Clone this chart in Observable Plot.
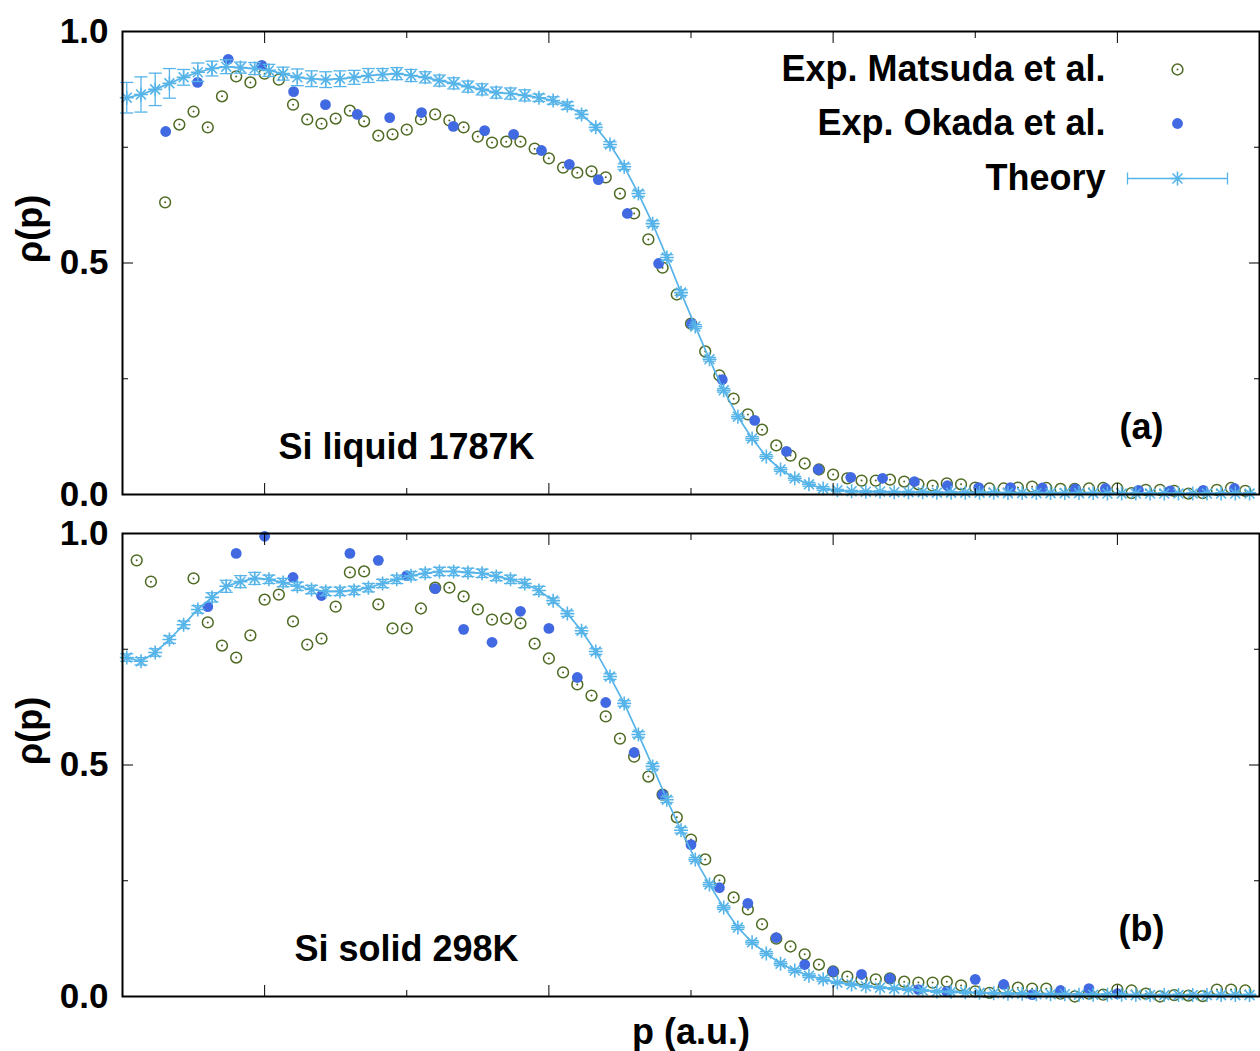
<!DOCTYPE html>
<html>
<head>
<meta charset="utf-8">
<script src="https://cdn.jsdelivr.net/npm/d3@7"></script>
<script src="https://cdn.jsdelivr.net/npm/@observablehq/plot@0.6"></script>
<style>
  body { margin: 0; background: #fff; }
  #chart { width: 1260px; }
  #chart svg { display: block; }
</style>
</head>
<body>
<div id="chart"></div>
<script>
// ---------------------------------------------------------------
// Momentum density rho(p) of silicon: liquid (a) and solid (b)
// ---------------------------------------------------------------

// Theory curves are sampled on a uniform momentum grid (a.u.)
const theoryStart = 0.0075;
const theoryStep = 0.025;

// Matsuda et al. data sit on a 0.025 a.u. grid, index j -> p = j * step
const matsudaStep = 0.025;

// (a) Si liquid 1787K
const theoryLiquid = [
  0.857, 0.864, 0.875, 0.888, 0.901, 0.912, 0.920, 0.924, 0.922, 0.920,
  0.916, 0.909, 0.901, 0.898, 0.896, 0.898, 0.901, 0.905, 0.907, 0.909,
  0.905, 0.901, 0.894, 0.888, 0.881, 0.875, 0.868, 0.866, 0.862, 0.857,
  0.851, 0.840, 0.821, 0.793, 0.756, 0.708, 0.650, 0.585, 0.512, 0.436,
  0.363, 0.292, 0.225, 0.168, 0.121, 0.082, 0.054, 0.035, 0.022, 0.013,
  0.009, 0.007, 0.006, 0.006, 0.005, 0.005, 0.005, 0.004, 0.004, 0.004,
  0.004, 0.004, 0.003, 0.003, 0.003, 0.003, 0.003, 0.003, 0.003, 0.002,
  0.002, 0.002, 0.002, 0.002, 0.002, 0.002, 0.002, 0.002, 0.002, 0.002
];
const theoryLiquidErr = [
  0.033, 0.038, 0.035, 0.032, 0.017, 0.020, 0.016, 0.015, 0.012, 0.013,
  0.013, 0.014, 0.018, 0.017, 0.017, 0.017, 0.015, 0.015, 0.013, 0.013,
  0.013, 0.012, 0.012, 0.012, 0.012, 0.012, 0.012, 0.012, 0.012, 0.008,
  0.008, 0.008, 0.008, 0.006, 0.006, 0.006, 0.006, 0.006, 0.006, 0.006,
  0.004, 0.004, 0.004, 0.004, 0.004, 0.004, 0.004, 0.004, 0.004, 0.004,
  0.002, 0.002, 0.002, 0.002, 0.002, 0.002, 0.002, 0.002, 0.002, 0.002,
  0.002, 0.002, 0.002, 0.002, 0.002, 0.002, 0.002, 0.002, 0.002, 0.002,
  0.002, 0.002, 0.002, 0.002, 0.002, 0.002, 0.002, 0.002, 0.002, 0.002
];
const matsudaLiquidFirst = 3;
const matsudaLiquid = [
  0.631, 0.799, 0.827, 0.793, 0.860, 0.903, 0.890, 0.909, 0.896, 0.842,
  0.810, 0.801, 0.812, 0.829, 0.806, 0.775, 0.778, 0.788, 0.810, 0.821,
  0.808, 0.793, 0.773, 0.760, 0.762, 0.762, 0.747, 0.726, 0.706, 0.695,
  0.698, 0.685, 0.650, 0.607, 0.551, 0.490, 0.432, 0.369, 0.309, 0.257,
  0.207, 0.173, 0.140, 0.106, 0.084, 0.067, 0.054, 0.043, 0.035, 0.030,
  0.030, 0.032, 0.028, 0.022, 0.019, 0.024, 0.022, 0.015, 0.013, 0.013,
  0.015, 0.017, 0.014, 0.012, 0.012, 0.013, 0.014, 0.013, 0.003, 0.010,
  0.010, 0.008, 0.002, 0.003, 0.010, 0.014, 0.008
];
const okadaLiquidP = [
  0.076, 0.132, 0.186, 0.245, 0.301, 0.357, 0.413, 0.470, 0.526, 0.582,
  0.637, 0.688, 0.737, 0.786, 0.837, 0.888, 0.943, 1.001, 1.055, 1.112,
  1.168, 1.224, 1.281, 1.337, 1.393, 1.451, 1.506, 1.562, 1.618, 1.676,
  1.729, 1.787, 1.843, 1.901, 1.956
];
const okadaLiquid = [
  0.784, 0.890, 0.940, 0.927, 0.870, 0.842, 0.821, 0.814, 0.825, 0.795,
  0.786, 0.778, 0.743, 0.713, 0.680, 0.607, 0.499, 0.369, 0.248, 0.160,
  0.093, 0.054, 0.037, 0.035, 0.028, 0.019, 0.015, 0.015, 0.014, 0.012,
  0.013, 0.009, 0.008, 0.009, 0.013
];

// (b) Si solid 298K
const theorySolid = [
  0.732, 0.724, 0.743, 0.771, 0.803, 0.836, 0.862, 0.886, 0.896, 0.903,
  0.901, 0.894, 0.886, 0.879, 0.875, 0.875, 0.877, 0.883, 0.892, 0.901,
  0.909, 0.914, 0.918, 0.918, 0.916, 0.914, 0.907, 0.901, 0.892, 0.877,
  0.855, 0.827, 0.790, 0.745, 0.691, 0.633, 0.566, 0.497, 0.425, 0.359,
  0.296, 0.242, 0.192, 0.149, 0.117, 0.093, 0.071, 0.056, 0.045, 0.037,
  0.030, 0.026, 0.022, 0.019, 0.017, 0.015, 0.013, 0.011, 0.010, 0.009,
  0.008, 0.007, 0.006, 0.006, 0.005, 0.005, 0.005, 0.004, 0.004, 0.004,
  0.004, 0.003, 0.003, 0.003, 0.003, 0.003, 0.003, 0.003, 0.003, 0.003
];
const theorySolidErr = [
  0.008, 0.008, 0.008, 0.008, 0.008, 0.008, 0.010, 0.013, 0.013, 0.013,
  0.009, 0.009, 0.009, 0.009, 0.009, 0.009, 0.009, 0.009, 0.009, 0.009,
  0.009, 0.009, 0.009, 0.009, 0.009, 0.009, 0.009, 0.009, 0.009, 0.009,
  0.006, 0.006, 0.006, 0.006, 0.006, 0.006, 0.006, 0.006, 0.006, 0.006,
  0.004, 0.004, 0.004, 0.004, 0.004, 0.004, 0.004, 0.004, 0.004, 0.004,
  0.002, 0.002, 0.002, 0.002, 0.002, 0.002, 0.002, 0.002, 0.002, 0.002,
  0.002, 0.002, 0.002, 0.002, 0.002, 0.002, 0.002, 0.002, 0.002, 0.002,
  0.002, 0.002, 0.002, 0.002, 0.002, 0.002, 0.002, 0.002, 0.002, 0.002
];
// values above 1.0 lie outside the frame and are left out (null)
const matsudaSolidFirst = 1;
const matsudaSolid = [
  0.942, 0.896, null, null, 0.903, 0.808, 0.758, 0.732, 0.780, 0.857,
  0.868, 0.810, 0.760, 0.773, 0.842, 0.916, 0.918, 0.847, 0.795, 0.795,
  0.838, 0.883, 0.883, 0.864, 0.836, 0.814, 0.816, 0.806, 0.762, 0.730,
  0.700, 0.674, 0.650, 0.605, 0.557, 0.518, 0.475, 0.436, 0.387, 0.339,
  0.296, 0.251, 0.214, 0.188, 0.156, 0.125, 0.108, 0.091, 0.069, 0.054,
  0.043, 0.037, 0.037, 0.039, 0.032, 0.030, 0.030, 0.032, 0.024, 0.011,
  0.008, 0.019, 0.019, 0.017, 0.017, 0.006, 0.000, 0.006, 0.004, 0.015,
  0.013, 0.006, 0.000, 0.003, 0.002, 0.001, 0.015, 0.015, 0.013
];
const okadaSolidP = [
  0.15, 0.20, 0.25, 0.30, 0.35, 0.40, 0.45, 0.50, 0.55, 0.60,
  0.65, 0.70, 0.75, 0.80, 0.85, 0.90, 0.95, 1.00, 1.05, 1.10,
  1.15, 1.20, 1.25, 1.30, 1.35, 1.40, 1.45, 1.50, 1.55, 1.60,
  1.65, 1.70, 1.75
];
const okadaSolid = [
  0.842, 0.957, 0.994, 0.905, 0.866, 0.957, 0.942, 0.909, 0.881, 0.793,
  0.765, 0.832, 0.795, 0.689, 0.635, 0.527, 0.436, 0.328, 0.235, 0.201,
  0.127, 0.069, 0.054, 0.048, 0.039, 0.015, 0.011, 0.037, 0.026, 0.004,
  0.013, 0.017, 0.006
];

// Axis ticks
const yLabelTicks = [0, 0.5, 1];
const yMinorTicks = [0.25, 0.75];
const xMajorTicks = [0.25, 0.75, 1.25, 1.75];
const xMinorTicks = [0.5, 1.0, 1.5];

const seriesNames = ["Exp. Matsuda et al.", "Exp. Okada et al.", "Theory"];

// Colours
const cTheory = "#56b4e9";
const cMatsuda = "#4f6b23";
const cOkada = "#4169e1";

// ---------------------------------------------------------------
// Point symbols
const asterisk = {
  draw(ctx, size) {
    const r = Math.sqrt(size / Math.PI), d = r * Math.SQRT1_2;
    ctx.moveTo(-r, 0); ctx.lineTo(r, 0);
    ctx.moveTo(0, -r); ctx.lineTo(0, r);
    ctx.moveTo(-d, -d); ctx.lineTo(d, d);
    ctx.moveTo(-d, d); ctx.lineTo(d, -d);
  }
};
const capBar = {
  draw(ctx, size) {
    const r = Math.sqrt(size / Math.PI);
    ctx.moveTo(-r, 0); ctx.lineTo(r, 0);
  }
};
// legend sample for the theory curve: error bar with end caps
const errorBarKey = {
  draw(ctx, size) {
    const r = Math.sqrt(size / Math.PI), h = 6;
    ctx.moveTo(-r, 0); ctx.lineTo(r, 0);
    ctx.moveTo(-r, -h); ctx.lineTo(-r, h);
    ctx.moveTo(r, -h); ctx.lineTo(r, h);
  }
};

function buildTheory(values, errs) {
  return values.map((rho, k) => ({p: theoryStart + k * theoryStep, rho, err: errs[k]}));
}
function buildMatsuda(values, first) {
  return values.map((rho, i) => ({p: (first + i) * matsudaStep, rho}))
    .filter(d => d.rho != null);
}
function buildOkada(ps, values) {
  return ps.map((p, i) => ({p, rho: values[i]}));
}

const W = 1260;
const FRAME_RIGHT = 1259;

function panel({theory, matsuda, okada, title, tag, height, marginTop, marginBottom, legend, xLabel}) {
  const marks = [
    // experimental points
    Plot.dot(matsuda, {x: "p", y: "rho", r: 5.4, stroke: cMatsuda, strokeWidth: 1.5, fill: "none"}),
    Plot.dot(matsuda, {x: "p", y: "rho", r: 1, fill: cMatsuda, stroke: "none"}),
    Plot.dot(okada, {x: "p", y: "rho", r: 5.4, fill: cOkada, stroke: "none"}),
    // theory with error bars
    Plot.ruleX(theory, {x: "p", y1: d => d.rho - d.err, y2: d => d.rho + d.err, stroke: cTheory, strokeWidth: 1.3}),
    Plot.dot(theory, {x: "p", y: d => d.rho - d.err, symbol: capBar, r: 6.5, stroke: cTheory, strokeWidth: 1.3}),
    Plot.dot(theory, {x: "p", y: d => d.rho + d.err, symbol: capBar, r: 6.5, stroke: cTheory, strokeWidth: 1.3}),
    Plot.line(theory, {x: "p", y: "rho", stroke: cTheory, strokeWidth: 1.7}),
    Plot.dot(theory, {x: "p", y: "rho", symbol: asterisk, r: 7, stroke: cTheory, strokeWidth: 1.6}),

    // frame and inward ticks on all four sides
    Plot.frame({stroke: "black", strokeWidth: 2}),
    Plot.axisY({ticks: yLabelTicks, anchor: "left", tickSize: 0, tickPadding: 14,
                tickFormat: d3.format(".1f"), label: null, fontSize: 35}),
    Plot.axisY({ticks: yLabelTicks, anchor: "left", tickSize: -11, tickFormat: () => "", label: null}),
    Plot.axisY({ticks: yMinorTicks, anchor: "left", tickSize: -6, tickFormat: () => "", label: null}),
    Plot.axisY({ticks: yLabelTicks, anchor: "right", tickSize: -11, tickFormat: () => "", label: null}),
    Plot.axisY({ticks: yMinorTicks, anchor: "right", tickSize: -6, tickFormat: () => "", label: null}),
    Plot.axisX({ticks: xMajorTicks, anchor: "bottom", tickSize: -11, tickFormat: () => "", label: null}),
    Plot.axisX({ticks: xMinorTicks, anchor: "bottom", tickSize: -6, tickFormat: () => "", label: null}),
    Plot.axisX({ticks: xMajorTicks, anchor: "top", tickSize: -11, tickFormat: () => "", label: null}),
    Plot.axisX({ticks: xMinorTicks, anchor: "top", tickSize: -6, tickFormat: () => "", label: null}),

    // y axis title
    Plot.text(["ρ(p)"], {frameAnchor: "left", dx: -92, rotate: -90, fontSize: 36, fill: "black"}),
    // panel annotations
    Plot.text([title], {frameAnchor: "bottom-left", dx: 284, dy: -47, textAnchor: "middle", lineAnchor: "middle", fontSize: 36, fill: "black"}),
    Plot.text([tag], {frameAnchor: "bottom-right", dx: 1141 - FRAME_RIGHT, dy: -67, textAnchor: "middle", lineAnchor: "middle", fontSize: 36, fill: "black"})
  ];

  if (legend) {
    const rows = [38, 92, 147];
    const textDx = 1105 - FRAME_RIGHT, keyDx = 1177 - FRAME_RIGHT;
    seriesNames.forEach((name, i) => {
      marks.push(Plot.text([name], {frameAnchor: "top-right", dx: textDx, dy: rows[i], textAnchor: "end", lineAnchor: "middle", fontSize: 36, fill: "black"}));
    });
    marks.push(
      Plot.dot([0], {frameAnchor: "top-right", dx: keyDx, dy: rows[0], r: 5.4, stroke: cMatsuda, strokeWidth: 1.5, fill: "none"}),
      Plot.dot([0], {frameAnchor: "top-right", dx: keyDx, dy: rows[0], r: 1, fill: cMatsuda}),
      Plot.dot([0], {frameAnchor: "top-right", dx: keyDx, dy: rows[1], r: 5.4, fill: cOkada}),
      Plot.dot([0], {frameAnchor: "top-right", dx: keyDx, dy: rows[2], symbol: errorBarKey, r: 50, stroke: cTheory, strokeWidth: 1.3}),
      Plot.dot([0], {frameAnchor: "top-right", dx: keyDx, dy: rows[2], symbol: asterisk, r: 7, stroke: cTheory, strokeWidth: 1.6})
    );
  }
  if (xLabel) {
    marks.push(Plot.text([xLabel], {frameAnchor: "bottom", dy: 36, lineAnchor: "middle", fontSize: 36, fill: "black"}));
  }

  return Plot.plot({
    width: W,
    height,
    marginLeft: 122,
    marginRight: W - FRAME_RIGHT,
    marginTop,
    marginBottom,
    x: {domain: [0, 2]},
    y: {domain: [0, 1]},
    style: {
      fontFamily: "'Liberation Sans', Arial, Helvetica, sans-serif",
      fontWeight: "bold",
      fontSize: "35px",
      color: "black",
      background: "white",
      overflow: "visible"
    },
    marks
  });
}

const chart = document.getElementById("chart");
chart.append(panel({
  theory: buildTheory(theoryLiquid, theoryLiquidErr),
  matsuda: buildMatsuda(matsudaLiquid, matsudaLiquidFirst),
  okada: buildOkada(okadaLiquidP, okadaLiquid),
  title: "Si liquid 1787K",
  tag: "(a)",
  height: 513,
  marginTop: 31,
  marginBottom: 19,
  legend: true
}));
chart.append(panel({
  theory: buildTheory(theorySolid, theorySolidErr),
  matsuda: buildMatsuda(matsudaSolid, matsudaSolidFirst),
  okada: buildOkada(okadaSolidP, okadaSolid),
  title: "Si solid 298K",
  tag: "(b)",
  height: 538,
  marginTop: 20,
  marginBottom: 55,
  xLabel: "p (a.u.)"
}));
</script>
</body>
</html>
